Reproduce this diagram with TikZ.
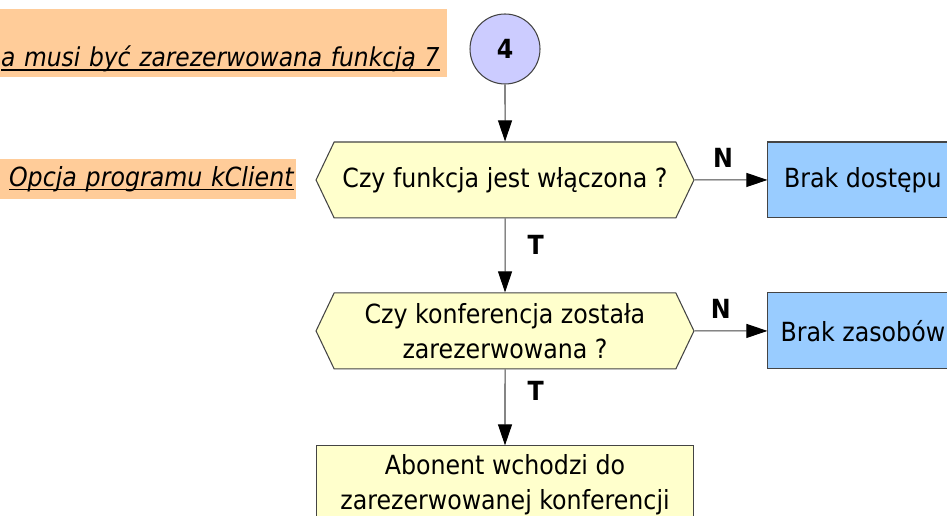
\documentclass[tikz,border=0pt]{standalone}
\usepackage{fontspec}
\setmainfont{DejaVu Sans Condensed}
\usepackage{xcolor}
\usepackage{tikz}
\usetikzlibrary{arrows.meta}
\usetikzlibrary{positioning,shapes.symbols}
\definecolor{noteorange}{HTML}{FFCC99}
\definecolor{askyellow}{HTML}{FFFFCC}
\definecolor{stopblue}{HTML}{99CCFF}
\definecolor{ballblue}{HTML}{CCCCFF}
\definecolor{edgegray}{HTML}{444444}
% underline at a fixed depth, through the descenders
\newcommand{\undertext}[1]{\setbox0\hbox{#1}%
  \rlap{\rule[-2.4pt]{\wd0}{1.1pt}}\box0}
\tikzset{%
  >={Triangle[width=2.8mm,length=4.2mm,color=black]},
  % Specifications for style of nodes:
  base/.style = {draw=edgegray, line width=0.6pt,
    align=center, inner sep=0pt,
    font=\fontsize{15}{20}\selectfont},
  decision/.style = {base, signal, signal to=west and east,
    signal pointer angle=129,
    minimum width=7.56cm, minimum height=1.52cm, fill=askyellow},
  stopbox/.style = {base, rectangle, minimum width=3.8cm,
    minimum height=1.52cm, fill=stopblue},
  actionbox/.style = {base, rectangle, minimum width=7.56cm,
    minimum height=1.56cm, fill=askyellow},
  ball/.style = {base, circle, minimum size=1.4cm, fill=ballblue,
    font=\fontsize{15}{20}\selectfont\bfseries},
  remark/.style = {fill=noteorange, inner ysep=0pt, inner xsep=0.04cm,
    text width=10cm, align=right,
    font=\fontsize{15}{20}\selectfont\itshape},
  answer/.style = {inner sep=0pt, font=\fontsize{15}{20}\selectfont\bfseries},
  flow/.style = {->, draw=edgegray, line width=0.6pt},
}

\begin{document}
\begin{tikzpicture}[x=0.02cm, y=0.02cm, node distance=3.02cm]
  \useasboundingbox (0,0) rectangle (947,-516);
  \clip (0,0) rectangle (947,-516);
  % Specification of nodes (position, etc.)
  \node(Start)[ball] at (505,-49) {4};
  \node(Func)[decision, below of=Start, yshift=0.4cm]{Czy funkcja jest włączona ?};
  \node(Conf)[decision, below of=Func]{Czy konferencja została\\zarezerwowana ?};
  \node(Join)[actionbox, below of=Conf, yshift=-0.06cm]{Abonent wchodzi do\\zarezerwowanej konferencji};
  \node(NoAccess)[stopbox, right of=Func, xshift=4.14cm]{Brak dostępu};
  \node(NoRes)[stopbox, right of=Conf, xshift=4.14cm]{Brak zasobów};
  % remarks on the left
  \node(NoteRes)[remark, anchor=south east, inner xsep=0.14cm,
    font=\fontsize{14.8}{20}\selectfont\itshape,
    text height=1.16cm, text depth=0.2cm] at (447,-77)
    {\undertext{a musi być zarezerwowana funkcją 7}};
  \node(NoteOpt)[remark, anchor=east, minimum height=0.8cm] at (296,-179)
    {\undertext{Opcja programu kClient}};
  % connectors
  \draw[flow](Start) -- (Func);
  \draw[flow](Func) -- node[answer, pos=0.36, anchor=west, xshift=0.44cm]{T} (Conf);
  \draw[flow](Conf) -- node[answer, pos=0.28, anchor=west, xshift=0.44cm]{T} (Join);
  \draw[flow](Func) -- node[answer, pos=0.39, anchor=south, yshift=0.24cm]{N} (NoAccess);
  \draw[flow](Conf) -- node[answer, pos=0.36, anchor=south, yshift=0.23cm]{N} (NoRes);
\end{tikzpicture}
\end{document}
